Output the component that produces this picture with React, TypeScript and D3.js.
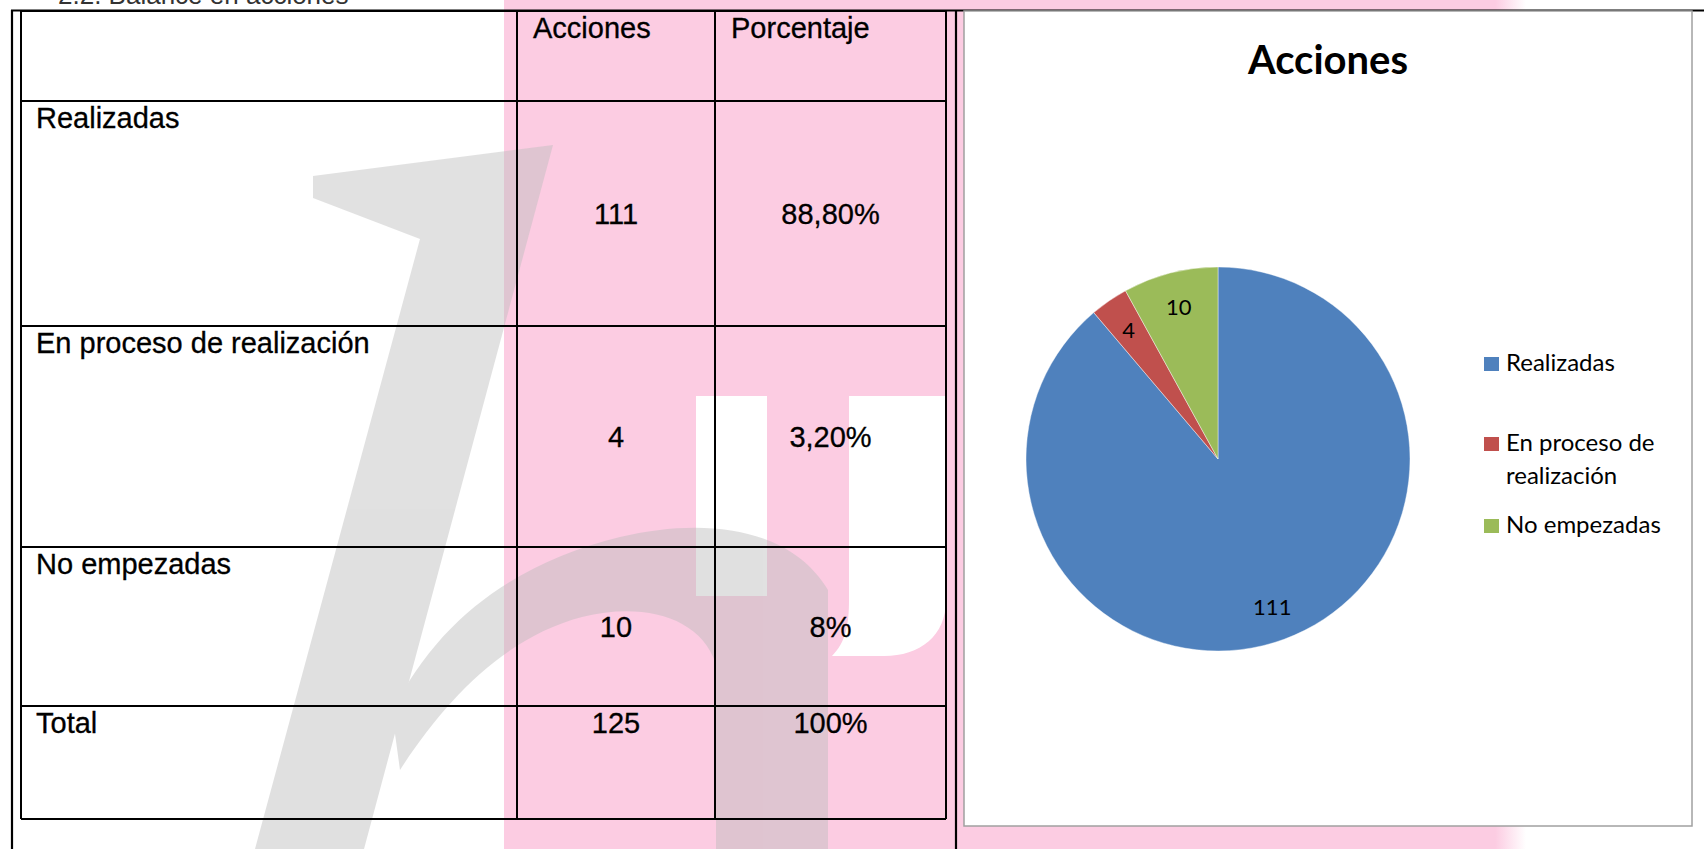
import * as d3 from 'd3';

// ---- data ----
const categories = ['Realizadas', 'En proceso de realización', 'No empezadas'];
const acciones = [111, 4, 10];
const porcentajes = ['88,80%', '3,20%', '8%'];
const totalLabel = 'Total';
const totalAcciones = 125;
const totalPorcentaje = '100%';
const columnHeaders = ['Acciones', 'Porcentaje'];
const legendLabels = [['Realizadas'], ['En proceso de', 'realización'], ['No empezadas']];
const sliceColors = ['#4F81BD', '#C0504D', '#9BBB59'];
const chartTitle = 'Acciones';
const heading = '2.2. Balance en acciones';

// ---- layout ----
const W = 1704, H = 849;
const rowEdges = [11, 101, 326, 547, 706, 819];
const colEdges = [21, 517, 715, 946];
const box = { x: 964, y: 11, w: 728, h: 815 };
const pieC = { x: 1218, y: 459, r: 192 };
const legend = { x: 1484, y: 357, sw: 15, lineH: 33, offsets: [0, 80, 162] };

const tableFont = "'Liberation Sans', Arial, sans-serif";
const chartFont = "Lato, 'Noto Sans', sans-serif";

export default function App() {
  const color = d3.scaleOrdinal<string, string>().domain(categories).range(sliceColors);
  const pie = d3.pie<number>().sort(null).value(d => d);
  const arcs = pie(acciones);
  const arc = d3.arc<d3.PieArcDatum<number>>().innerRadius(0).outerRadius(pieC.r);
  const labelArc = d3.arc<d3.PieArcDatum<number>>()
    .innerRadius(pieC.r * 0.82).outerRadius(pieC.r * 0.82);

  const rows = [
    ...categories.map((c, i) => ({ label: c, a: String(acciones[i]), p: porcentajes[i], mid: true })),
    { label: totalLabel, a: String(totalAcciones), p: totalPorcentaje, mid: false },
  ];
  const valueX = [(colEdges[1] + colEdges[2]) / 2, (colEdges[2] + colEdges[3]) / 2];

  return (
    <div style={{ position: 'fixed', left: 0, top: 0 }}>
      <svg width={W} height={H} style={{ display: 'block', background: '#fff' }}>
        <defs>
          <linearGradient id="pinkFade" x1="0" x2="1" y1="0" y2="0">
            <stop offset="0.97" stopColor="#fccce2" stopOpacity={1} />
            <stop offset="1" stopColor="#fccce2" stopOpacity={0} />
          </linearGradient>
        </defs>

        {/* background watermark */}
        <rect x={504} y={0} width={1022} height={H} fill="url(#pinkFade)" />
        <g fill="#fff">
          <rect x={696} y={396} width={71} height={200} />
          <path d="M849,396 H946 V600 C946,636 920,656 884,656 H832 C846,642 849,624 849,600 Z" />
        </g>
        <g opacity={0.45} fill="#bcbcbc">
          <path d="M313,176 L553,145 L364,849 L255,849 L420,239 L313,198 Z" />
          <path d="M392,712 C440,615 520,562 620,537 C705,517 790,527 828,590 L828,849 L716,849 L716,664 C700,616 642,602 582,617 C505,637 445,700 400,770 Z" />
        </g>

        {/* heading, cut off at the top of the page */}
        <text x={58} y={4} fontFamily={tableFont} fontSize={26} fill="#333">{heading}</text>

        {/* page frame */}
        <g stroke="#000" strokeWidth={2.2} fill="none">
          <line x1={11} x2={W} y1={10.5} y2={10.5} />
          <line x1={12} x2={12} y1={10} y2={H} />
          <line x1={956} x2={956} y1={10} y2={H} />
        </g>

        {/* table grid */}
        <g stroke="#000" strokeWidth={2} fill="none">
          {rowEdges.map((y, i) => (
            <line key={'r' + i} x1={colEdges[0]} x2={colEdges[3]} y1={y} y2={y} />
          ))}
          {colEdges.map((x, i) => (
            <line key={'c' + i} x1={x} x2={x} y1={rowEdges[0]} y2={rowEdges[rowEdges.length - 1]} />
          ))}
        </g>

        {/* table text */}
        <g fontFamily={tableFont} fontSize={29} fill="#000" stroke="#000" strokeWidth={0.3}>
          {columnHeaders.map((h, i) => (
            <text key={h} x={colEdges[i + 1] + 16} y={rowEdges[0] + 27}>{h}</text>
          ))}
          {rows.map((r, i) => {
            const top = rowEdges[i + 1];
            const bottom = rowEdges[i + 2];
            const vy = r.mid ? (top + bottom) / 2 + 10 : top + 27;
            return (
              <g key={r.label}>
                <text x={36} y={top + 27}>{r.label}</text>
                <text x={valueX[0]} y={vy} textAnchor="middle">{r.a}</text>
                <text x={valueX[1]} y={vy} textAnchor="middle">{r.p}</text>
              </g>
            );
          })}
        </g>

        {/* chart area */}
        <rect x={box.x} y={box.y} width={box.w} height={box.h} fill="#fff"
          stroke="#a0a0a0" strokeWidth={1.5} />
        <text x={box.x + box.w / 2} y={74} textAnchor="middle" fontFamily={chartFont}
          fontWeight={700} fontSize={40} fill="#000">{chartTitle}</text>

        <g transform={`translate(${pieC.x},${pieC.y})`}>
          {arcs.map((a, i) => (
            <path key={i} d={arc(a) || ''} fill={color(categories[i])}
              stroke="#fff" strokeWidth={0.6} strokeOpacity={0.7} />
          ))}
          {arcs.map((a, i) => {
            const [lx, ly] = labelArc.centroid(a);
            return (
              <text key={'l' + i} x={lx} y={ly} textAnchor="middle" dominantBaseline="central"
                fontFamily={chartFont} fontSize={22} fill="#000">{acciones[i]}</text>
            );
          })}
        </g>

        {/* legend */}
        <g fontFamily={chartFont} fontSize={24} fill="#000">
          {legendLabels.map((lines, i) => {
            const y0 = legend.y + legend.offsets[i];
            return (
              <g key={i}>
                <rect x={legend.x} y={y0} width={legend.sw} height={legend.sw - 1}
                  fill={color(categories[i])} />
                {lines.map((t, j) => (
                  <text key={j} x={legend.x + 22} y={y0 + 14 + j * legend.lineH}>{t}</text>
                ))}
              </g>
            );
          })}
        </g>
      </svg>
    </div>
  );
}
